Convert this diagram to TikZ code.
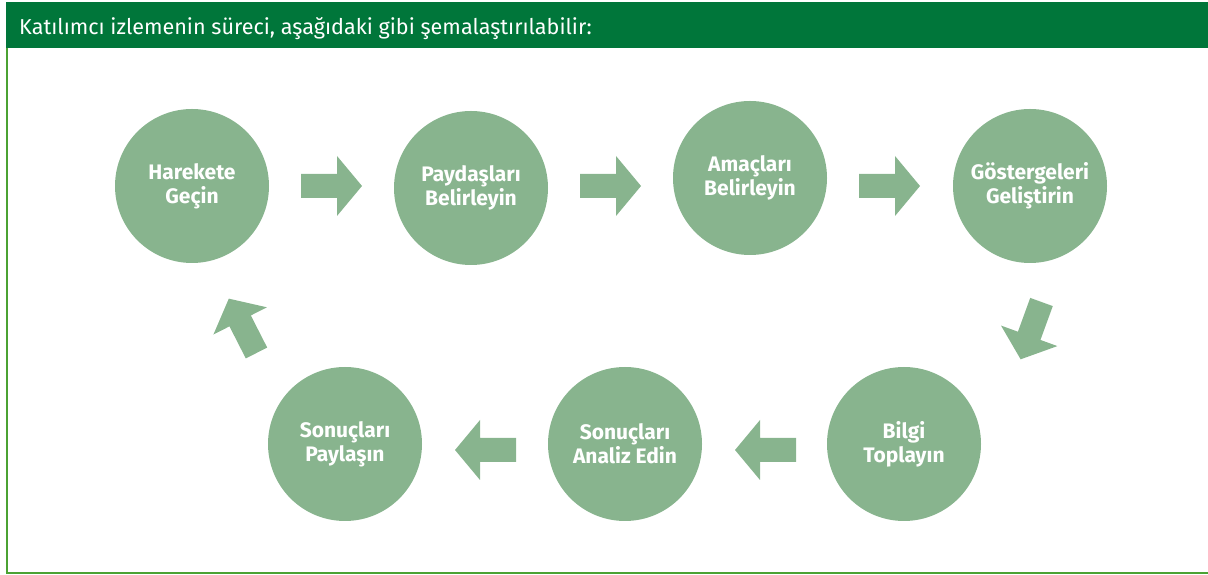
\documentclass[tikz,border=0pt]{standalone}
\usepackage{fontspec}
\setmainfont{Fira Sans}
\definecolor{hdr}{HTML}{00763A}
\definecolor{frame}{HTML}{4BA233}
\definecolor{disc}{HTML}{88B48E}
\tikzset{
  stage/.style={circle, fill=disc, minimum size=154pt, inner sep=0pt, align=center,
    text=white, font=\bfseries\fontsize{21}{24}\selectfont},
  blockarrow/.pic={\fill[disc] (0,12)--(36,12)--(36,30)--(61,0)--(36,-30)--(36,-12)--(0,-12)--cycle;}
}
\begin{document}
\begin{tikzpicture}[x=1pt,y=1pt]
\useasboundingbox (0,0) rectangle (1208,575);
% header and frame
\fill[hdr] (6,527) rectangle (1208,573);
\node[anchor=base west, text=white, font=\fontsize{21.6}{24}\selectfont, inner sep=0pt] (title) at (19,540) {Katılımcı izlemenin süreci, aşağıdaki gibi şemalaştırılabilir:};
\draw[frame, line width=2.5pt] (7,527) -- (7,1.5);
\draw[frame, line width=1.5pt] (5.75,2) -- (1208,2);
% stages
\node[stage] (h) at (192,389) {Harekete\\Geçin};
\node[stage] (p) at (471,387) {Paydaşları\\Belirleyin};
\node[stage] (a) at (750,397) {Amaçları\\Belirleyin};
\node[stage] (g) at (1030,389) {Göstergeleri\\Geliştirin};
\node[stage] (b) at (904,131) {Bilgi\\Toplayın};
\node[stage] (n) at (625,131) {Sonuçları\\Analiz Edin};
\node[stage] (s) at (345,131) {Sonuçları\\Paylaşın};
% arrows
\pic at (301,389) {blockarrow};
\pic at (580,389) {blockarrow};
\pic at (859,389) {blockarrow};
\pic[rotate=-110] at (1041.5,273) {blockarrow};
\pic[rotate=180] at (796,125) {blockarrow};
\pic[rotate=180] at (516,125) {blockarrow};
\pic[rotate=117] at (256.5,222) {blockarrow};
\end{tikzpicture}
\end{document}
